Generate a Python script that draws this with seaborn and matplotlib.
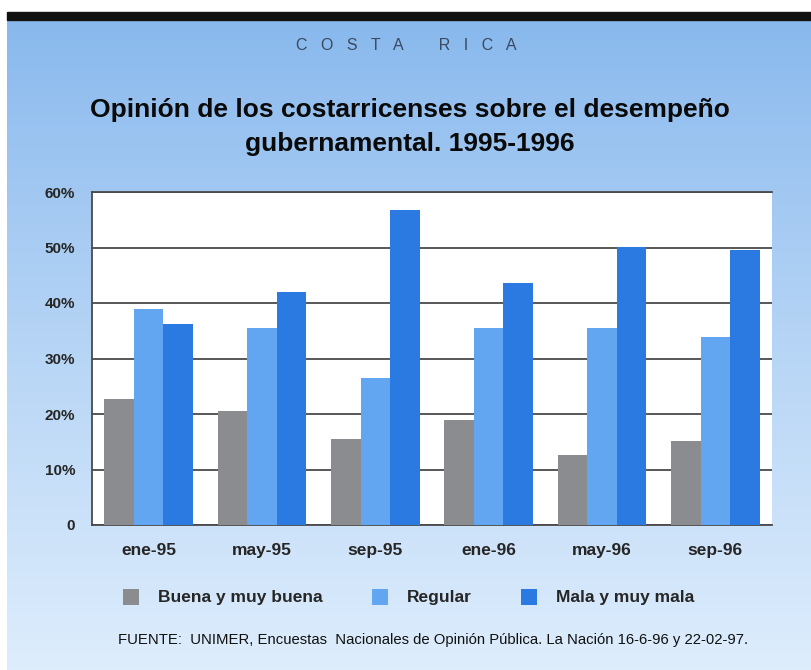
import numpy as np
import pandas as pd
import matplotlib
matplotlib.use("Agg")
import matplotlib.pyplot as plt
import seaborn as sns
from matplotlib.patches import Patch

# data (percent)
periods = ['ene-95', 'may-95', 'sep-95', 'ene-96', 'may-96', 'sep-96']
buena = [22.7, 20.5, 15.5, 18.9, 12.6, 15.1]
regular = [38.9, 35.5, 26.5, 35.5, 35.5, 33.9]
mala = [36.2, 42.0, 56.8, 43.6, 50.1, 49.5]
series_names = ['Buena y muy buena', 'Regular', 'Mala y muy mala']
series_colors = ['#8a8c90', '#62a6f2', '#2a7ae2']
ytick_labels = ['0', '10%', '20%', '30%', '40%', '50%', '60%']

df = pd.DataFrame({
    'Periodo': periods * 3,
    'Valor': buena + regular + mala,
    'Opinion': [series_names[0]] * 6 + [series_names[1]] * 6 + [series_names[2]] * 6,
})

sns.set_style('white')
plt.rcParams['font.family'] = ['Liberation Sans', 'DejaVu Sans']

fig = plt.figure(figsize=(8.12, 6.7), dpi=100)
fig.patch.set_facecolor('white')

# blue gradient background
bg = fig.add_axes([7 / 812, 0, 805 / 812, (670 - 17) / 670], zorder=-5)
grad = np.linspace(0, 1, 256).reshape(-1, 1)
top = np.array([0.53, 0.72, 0.93])
bot = np.array([0.87, 0.93, 0.99])
img = top + (bot - top) * grad[:, :, None] ** 0.9
bg.imshow(img, aspect='auto', extent=[0, 1, 0, 1])
bg.axis('off')

# black band at top
fig.patches.append(plt.Rectangle((7 / 812, (670 - 20) / 670), 805 / 812, 8 / 670,
                                 transform=fig.transFigure, color='#111111', zorder=5))

ax = fig.add_axes([92 / 812, (670 - 525) / 670, 680 / 812, 333 / 670])
ax.set_facecolor('white')
sns.barplot(data=df, x='Periodo', y='Valor', hue='Opinion', palette=series_colors,
            width=0.78, gap=0, saturation=1, linewidth=0, ax=ax, legend=False, zorder=3)

ax.set_ylim(0, 60)
ax.set_yticks(range(0, 61, 10))
ax.set_yticklabels(ytick_labels, fontsize=11, fontweight='bold')
ax.set_xticks(range(len(periods)))
ax.set_xticklabels(periods, fontsize=12.5, fontweight='bold')
ax.set_xlim(-0.5, 5.5)
ax.set_xlabel('')
ax.set_ylabel('')
ax.yaxis.grid(True, color='#4a4a4a', linewidth=1.3, zorder=1)
ax.set_axisbelow(True)
for s in ['left', 'bottom', 'top']:
    ax.spines[s].set_color('#4a4a4a')
    ax.spines[s].set_linewidth(1.3)
ax.spines['right'].set_visible(False)
ax.tick_params(axis='x', direction='out', length=5, width=1, color='#4a4a4a', pad=8)
ax.tick_params(axis='y', length=0, pad=12)

# legend
handles = [Patch(facecolor=c, edgecolor='none') for c in series_colors]
leg = fig.legend(handles, series_names, loc='center left', ncol=3,
                 bbox_to_anchor=(114 / 812, 1 - 597 / 670), frameon=False,
                 prop={'size': 12.5, 'weight': 'bold'}, handlelength=0.95, handleheight=1.05,
                 columnspacing=2.8, handletextpad=1.1, borderpad=0)

fig.text(406 / 812, 1 - 45 / 670, 'C   O   S   T   A        R   I   C   A', ha='center',
         va='center', fontsize=11.5, color='#3a4a60')
fig.text(410 / 812, 1 - 127 / 670,
         'Opinión de los costarricenses sobre el desempeño\ngubernamental. 1995-1996',
         ha='center', va='center', fontsize=19, fontweight='bold', color='#0a0a0a',
         linespacing=1.55)
fig.text(118 / 812, 1 - 640 / 670,
         'FUENTE:  UNIMER, Encuestas  Nacionales de Opinión Pública. La Nación 16-6-96 y 22-02-97.',
         ha='left', va='center', fontsize=10.7, color='#111111')

fig.savefig('out.png', dpi=100)
